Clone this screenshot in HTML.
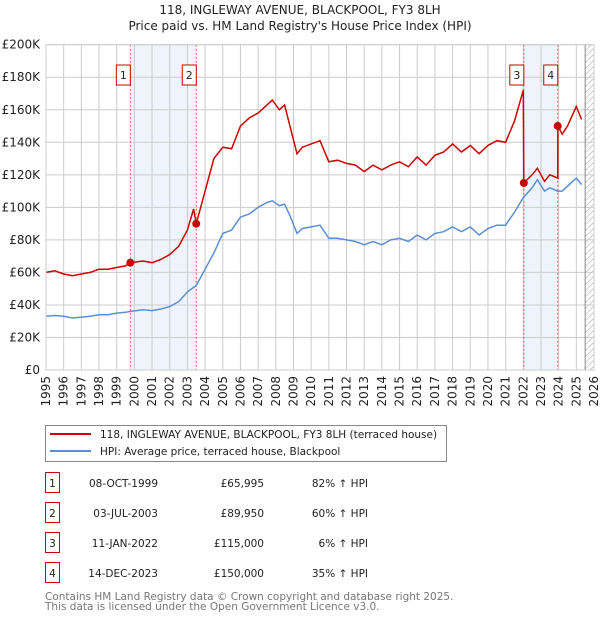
<!DOCTYPE html>
<html><head><meta charset="utf-8">
<style>
body{margin:0;background:#fff;font-family:"DejaVu Sans","Liberation Sans",sans-serif;}
#wrap{position:relative;width:600px;height:620px;overflow:hidden}
svg text{font-family:"DejaVu Sans","Liberation Sans",sans-serif;}
</style></head>
<body>
<div id="wrap">
<svg id="chart" width="600" height="620"></svg>
</div>
<script>
const hpiYears=[1995,1995.5,1996,1996.5,1997,1997.5,1998,1998.5,1999,1999.5,1999.77,2000.5,2001,2001.5,2002,2002.5,2003,2003.5,2004,2004.5,2005,2005.5,2006,2006.5,2007,2007.5,2007.8,2008.2,2008.5,2008.8,2009.2,2009.5,2010,2010.5,2011,2011.5,2012,2012.5,2013,2013.5,2014,2014.5,2015,2015.5,2016,2016.5,2017,2017.5,2018,2018.5,2019,2019.5,2020,2020.5,2021,2021.5,2022,2022.5,2022.8,2023.2,2023.5,2023.95,2024.2,2024.5,2025,2025.3];
const hpiValues=[33,33.5,33,32,32.5,33,34,34,35,35.5,36,37,36.5,37.5,39,42,48,52,62,72,84,86,94,96,100,103,104,101,102,95,84,87,88,89,81,81,80,79,77,79,77,80,81,79,83,80,84,85,88,85,88,83,87,89,89,97,106,112,117,110,112,110,110,113,118,114];
const redYears=[1995,1995.5,1996,1996.5,1997,1997.5,1998,1998.5,1999,1999.5,1999.77,2000.5,2001,2001.5,2002,2002.5,2003,2003.35,2003.5,2004,2004.5,2005,2005.5,2006,2006.5,2007,2007.5,2007.8,2008.2,2008.5,2008.8,2009.2,2009.5,2010,2010.5,2011,2011.5,2012,2012.5,2013,2013.5,2014,2014.5,2015,2015.5,2016,2016.5,2017,2017.5,2018,2018.5,2019,2019.5,2020,2020.5,2021,2021.5,2022,2022.03,2022.5,2022.8,2023.2,2023.5,2023.95,2023.96,2024.2,2024.5,2025,2025.3];
const redValues=[60,61,59,58,59,60,62,62,63,64,66,67,66,68,71,76,86,99,90,110,130,137,136,150,155,158,163,166,160,163,150,133,137,139,141,128,129,127,126,122,126,123,126,128,125,131,126,132,134,139,134,138,133,138,141,140,153,172,115,120,124,116,120,118,150,145,150,162,154];
const saleYears=[1999.77,2003.5,2022.03,2023.95];
const saleValues=[65.995,89.95,115,150];
const saleLabels=["1","2","3","4"];
const yTicks=[0,20,40,60,80,100,120,140,160,180,200];
const xTicks=[1995,1996,1997,1998,1999,2000,2001,2002,2003,2004,2005,2006,2007,2008,2009,2010,2011,2012,2013,2014,2015,2016,2017,2018,2019,2020,2021,2022,2023,2024,2025,2026];
const tableDates=["08-OCT-1999","03-JUL-2003","11-JAN-2022","14-DEC-2023"];
const tablePrices=["£65,995","£89,950","£115,000","£150,000"];
const tableHpi=["82% ↑ HPI","60% ↑ HPI","6% ↑ HPI","35% ↑ HPI"];

const NS="http://www.w3.org/2000/svg";
const svg=document.getElementById('chart');
const X0=46,X1=594,Y0=370,Y1=44.7;
const xs=y=>X0+(y-1995)/(2026-1995)*(X1-X0);
const ys=v=>Y0-v/200*(Y0-Y1);
function el(tag,attrs,parent){const e=document.createElementNS(NS,tag);for(const k in attrs)e.setAttribute(k,attrs[k]);(parent||svg).appendChild(e);return e;}

let t=el('text',{x:300,y:14,'text-anchor':'middle','font-size':12,fill:'#222'});t.textContent="118, INGLEWAY AVENUE, BLACKPOOL, FY3 8LH";

t=el('text',{x:300,y:30,'text-anchor':'middle','font-size':12,fill:'#222'});t.textContent="Price paid vs. HM Land Registry's House Price Index (HPI)";


for(const [a,b] of [[0,1],[2,3]]){
  const r=el('rect',{x:xs(saleYears[a]),y:Y1,width:xs(saleYears[b])-xs(saleYears[a]),height:Y0-Y1,fill:'#eef3fc'});
  
}
const defs=el('defs',{});
const pat=el('pattern',{id:'hatch',width:6,height:6,patternUnits:'userSpaceOnUse'},defs);
el('path',{d:'M0,6 L6,0',stroke:'#ccc','stroke-width':1},pat);
const hr=el('rect',{x:xs(2025.5),y:Y1,width:X1-xs(2025.5),height:Y0-Y1,fill:'url(#hatch)'});


yTicks.forEach(v=>{
  const l=el('line',{x1:X0,x2:X1,y1:ys(v),y2:ys(v),stroke:'#ccc','stroke-width':1});
  
  const tx=el('text',{x:X0-6,y:ys(v)+4,'text-anchor':'end','font-size':12,fill:'#222'});
  tx.textContent=v===0?'£0':'£'+v+'K';
  
});
xTicks.forEach(y=>{
  const l=el('line',{x1:xs(y),x2:xs(y),y1:Y1,y2:Y0,stroke:'#ccc','stroke-width':1});
  
  const tx=el('text',{transform:`translate(${xs(y)+4},${Y0+6}) rotate(-90)`,'text-anchor':'end','font-size':12,fill:'#222'});
  tx.textContent=y;
  
});
const vl=el('line',{x1:xs(2025.5),x2:xs(2025.5),y1:Y1,y2:Y0,stroke:'#888','stroke-width':1});


saleYears.forEach((y,i)=>{
  const l=el('line',{x1:xs(y),x2:xs(y),y1:Y1,y2:Y0,stroke:'#e06060','stroke-width':1,'stroke-dasharray':'2,2'});
  
  const bx=xs(y)-7;
  const g=el('g',{});
  
  el('rect',{x:bx-7,y:65,width:14,height:20,fill:'#fff',stroke:'#c00','stroke-width':1},g);
  const tx=el('text',{x:bx,y:79,'text-anchor':'middle','font-size':11,fill:'#222'},g);tx.textContent=saleLabels[i];
});

const path=(xa,va)=>xa.map((x,i)=>(i?'L':'M')+xs(x).toFixed(1)+','+ys(va[i]).toFixed(1)).join(' ');
const hp=el('path',{d:path(hpiYears,hpiValues),fill:'none',stroke:'#5b8fd4','stroke-width':1.5});

const rp=el('path',{d:path(redYears,redValues),fill:'none',stroke:'#cc0000','stroke-width':1.5});

saleYears.forEach((y,i)=>{
  const c=el('circle',{cx:xs(y),cy:ys(saleValues[i]),r:4,fill:'#cc0000'});
  
});
const border=el('rect',{x:X0,y:Y1,width:X1-X0,height:Y0-Y1,fill:'none',stroke:'#ccc'});


const FS=10.5;
const lg=el('g',{});
el('rect',{x:45.5,y:425.5,width:401,height:36,fill:'#fff',stroke:'#888'},lg);
el('line',{x1:50,x2:91,y1:434,y2:434,stroke:'#cc0000','stroke-width':2},lg);
el('line',{x1:50,x2:91,y1:451,y2:451,stroke:'#5b8fd4','stroke-width':2},lg);
t=el('text',{x:100,y:438,'font-size':FS,fill:'#222'},lg);t.textContent="118, INGLEWAY AVENUE, BLACKPOOL, FY3 8LH (terraced house)";

t=el('text',{x:100,y:455,'font-size':FS,fill:'#222'},lg);t.textContent="HPI: Average price, terraced house, Blackpool";


tableDates.forEach((d,i)=>{
  const cy=483+i*30;
  const g=el('g',{});
  el('rect',{x:45.5,y:cy-10.5,width:14,height:20,fill:'#fff',stroke:'#c00'},g);
  let tx=el('text',{x:52.5,y:cy+4,'text-anchor':'middle','font-size':FS,fill:'#222'},g);tx.textContent=saleLabels[i];
  tx=el('text',{x:158,y:cy+4,'text-anchor':'end','font-size':FS,fill:'#222'},g);tx.textContent=d;
  tx=el('text',{x:264,y:cy+4,'text-anchor':'end','font-size':FS,fill:'#222'},g);tx.textContent=tablePrices[i];
  tx=el('text',{x:368,y:cy+4,'text-anchor':'end','font-size':FS,fill:'#222'},g);tx.textContent=tableHpi[i];
});
t=el('text',{x:45,y:600,'font-size':FS,fill:'#777'});t.textContent="Contains HM Land Registry data © Crown copyright and database right 2025.";

t=el('text',{x:45,y:610,'font-size':FS,fill:'#777'});t.textContent="This data is licensed under the Open Government Licence v3.0.";

</script>
</body></html>
